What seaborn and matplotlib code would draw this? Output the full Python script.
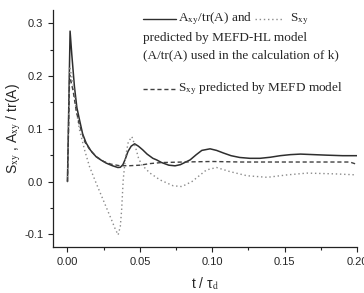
import numpy as np
import pandas as pd
import matplotlib
matplotlib.use('Agg')
import matplotlib.pyplot as plt
import seaborn as sns
from matplotlib.ticker import MultipleLocator, FormatStrFormatter

# A_xy/tr(A) predicted by MEFD-HL model (solid)
a_t = [0.0, 0.0018, 0.003, 0.0048, 0.0065, 0.0083, 0.0105, 0.0129, 0.016, 0.0198,
       0.023, 0.0267, 0.031, 0.0348, 0.0365, 0.0383, 0.040, 0.0418, 0.044, 0.0464,
       0.049, 0.052, 0.055, 0.059, 0.0616, 0.065, 0.070, 0.0743, 0.078, 0.0847,
       0.089, 0.0928, 0.0985, 0.103, 0.1078, 0.113, 0.119, 0.126, 0.133, 0.140,
       0.147, 0.154, 0.161, 0.170, 0.179, 0.190, 0.200]
a_val = [0.0, 0.285, 0.24, 0.18, 0.14, 0.117, 0.09, 0.073, 0.059, 0.047,
         0.041, 0.035, 0.030, 0.0266, 0.027, 0.032, 0.043, 0.057, 0.067, 0.0715,
         0.067, 0.060, 0.052, 0.044, 0.041, 0.036, 0.031, 0.0298, 0.032, 0.041,
         0.051, 0.059, 0.062, 0.059, 0.054, 0.049, 0.0456, 0.044, 0.044, 0.046,
         0.049, 0.051, 0.052, 0.051, 0.050, 0.049, 0.049]

# S_xy predicted by MEFD-HL model (dotted)
shl_t = [0.0, 0.0014, 0.0025, 0.0037, 0.006, 0.0083, 0.0118, 0.0152, 0.0198, 0.0247,
         0.0305, 0.033, 0.035, 0.0365, 0.0374, 0.0385, 0.040, 0.042, 0.0445, 0.047,
         0.049, 0.0512, 0.057, 0.064, 0.073, 0.079, 0.086, 0.096, 0.103, 0.112,
         0.124, 0.138, 0.152, 0.1655, 0.184, 0.199]
shl_val = [0.0, 0.218, 0.205, 0.19, 0.136, 0.098, 0.060, 0.0285, -0.003, -0.035,
           -0.073, -0.09, -0.101, -0.085, -0.054, 0.003, 0.045, 0.075, 0.085, 0.065,
           0.045, 0.032, 0.016, 0.003, -0.008, -0.0095, 0.0, 0.022, 0.0266, 0.019,
           0.011, 0.008, 0.0127, 0.016, 0.0146, 0.0127]

# S_xy predicted by MEFD model (dashed)
s_t = [0.0, 0.0015, 0.004, 0.006, 0.008, 0.012, 0.016, 0.020, 0.025, 0.030,
       0.036, 0.043, 0.050, 0.057, 0.065, 0.080, 0.100, 0.120, 0.140, 0.160,
       0.180, 0.195, 0.200]
s_val = [0.0, 0.202, 0.17, 0.135, 0.11, 0.075, 0.058, 0.047, 0.038, 0.033,
         0.030, 0.030, 0.031, 0.034, 0.036, 0.037, 0.038, 0.037, 0.037, 0.037,
         0.037, 0.037, 0.0325]

sns.set_style('ticks')
plt.rcParams['font.family'] = ['Liberation Sans', 'DejaVu Sans']
plt.rcParams['mathtext.fontset'] = 'stix'
plt.rcParams['axes.unicode_minus'] = False

fig = plt.figure(figsize=(3.64, 2.93), dpi=100)
ax = fig.add_axes([53 / 364, 1 - 247 / 293, 304 / 364, 237 / 293])

sns.lineplot(x=a_t, y=a_val, ax=ax, color='#2e2e2e', linewidth=1.1, linestyle='-')
sns.lineplot(x=shl_t, y=shl_val, ax=ax, color='#8a8a8a', linewidth=1.0, linestyle=(0, (1, 2)))
sns.lineplot(x=s_t, y=s_val, ax=ax, color='#404040', linewidth=1.0, linestyle=(0, (3, 2)))

ax.set_xlim(-0.01, 0.20)
ax.set_ylim(-0.124, 0.325)
ax.xaxis.set_major_locator(MultipleLocator(0.05))
ax.xaxis.set_minor_locator(MultipleLocator(0.025))
ax.yaxis.set_major_locator(MultipleLocator(0.1))
ax.yaxis.set_minor_locator(MultipleLocator(0.05))
ax.xaxis.set_major_formatter(FormatStrFormatter('%.2f'))
ax.yaxis.set_major_formatter(FormatStrFormatter('%.1f'))
ax.tick_params(which='major', length=3.5, width=0.8, labelsize=8, color='#222222')
ax.tick_params(which='minor', length=2, width=0.8, color='#222222')
for s in ['left', 'bottom']:
    ax.spines[s].set_linewidth(0.9)
    ax.spines[s].set_color('#222222')
sns.despine(ax=ax)

ax.set_xlabel('t / τ$_{\\rm d}$', fontsize=10, labelpad=6)
ax.set_ylabel('S$_{\\rm xy}$ , A$_{\\rm xy}$ / tr(A)', fontsize=10, labelpad=1)

# hand-laid legend like the original
serif = ['Liberation Serif', 'DejaVu Serif']
tr = ax.transAxes
ax.plot([0.295, 0.403], [0.962, 0.962], transform=tr, color='#2e2e2e', lw=1.0)
ax.text(0.410, 0.962, 'A$_{\\rm xy}$/tr(A) and', transform=tr, family=serif,
        fontsize=9.5, va='center', ha='left')
ax.plot([0.664, 0.757], [0.962, 0.962], transform=tr, color='#8a8a8a', lw=1.0,
        linestyle=(0, (1, 2)))
ax.text(0.780, 0.962, 'S$_{\\rm xy}$', transform=tr, family=serif,
        fontsize=9.5, va='center', ha='left')
ax.text(0.295, 0.882, 'predicted by MEFD-HL model', transform=tr, family=serif,
        fontsize=9.5, va='center', ha='left')
ax.text(0.295, 0.810, '(A/tr(A) used in the calculation of k)', transform=tr, family=serif,
        fontsize=9.5, va='center', ha='left')
ax.plot([0.295, 0.403], [0.667, 0.667], transform=tr, color='#404040', lw=1.0,
        linestyle=(0, (3, 2)))
ax.text(0.412, 0.667, 'S$_{\\rm xy}$ predicted by MEFD model', transform=tr, family=serif,
        fontsize=9.5, va='center', ha='left')

fig.savefig('out.png', dpi=100)
